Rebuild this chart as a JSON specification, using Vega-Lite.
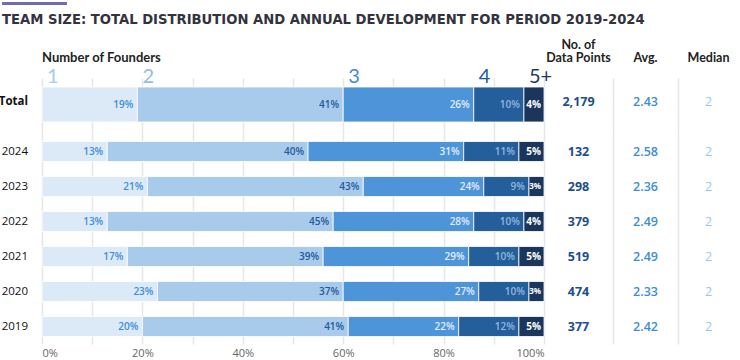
{
  "$schema": "https://vega.github.io/schema/vega-lite/v6.json",
  "padding": {"left": -2, "top": -3, "right": 0, "bottom": 0},
  "background": "white",
  "config": {
    "view": {"stroke": null},
    "text": {"font": "Open Sans"},
    "axis": {"labelFont": "Open Sans"},
    "title": {"font": "Lato"}
  },
  "datasets": {
    "bars": [
      {"group": "Total", "founders": "1", "p": 0.19},
      {"group": "Total", "founders": "2", "p": 0.41},
      {"group": "Total", "founders": "3", "p": 0.26},
      {"group": "Total", "founders": "4", "p": 0.10},
      {"group": "Total", "founders": "5+", "p": 0.04},
      {"group": "2024", "founders": "1", "p": 0.13},
      {"group": "2024", "founders": "2", "p": 0.40},
      {"group": "2024", "founders": "3", "p": 0.31},
      {"group": "2024", "founders": "4", "p": 0.11},
      {"group": "2024", "founders": "5+", "p": 0.05},
      {"group": "2023", "founders": "1", "p": 0.21},
      {"group": "2023", "founders": "2", "p": 0.43},
      {"group": "2023", "founders": "3", "p": 0.24},
      {"group": "2023", "founders": "4", "p": 0.09},
      {"group": "2023", "founders": "5+", "p": 0.03},
      {"group": "2022", "founders": "1", "p": 0.13},
      {"group": "2022", "founders": "2", "p": 0.45},
      {"group": "2022", "founders": "3", "p": 0.28},
      {"group": "2022", "founders": "4", "p": 0.10},
      {"group": "2022", "founders": "5+", "p": 0.04},
      {"group": "2021", "founders": "1", "p": 0.17},
      {"group": "2021", "founders": "2", "p": 0.39},
      {"group": "2021", "founders": "3", "p": 0.29},
      {"group": "2021", "founders": "4", "p": 0.10},
      {"group": "2021", "founders": "5+", "p": 0.05},
      {"group": "2020", "founders": "1", "p": 0.23},
      {"group": "2020", "founders": "2", "p": 0.37},
      {"group": "2020", "founders": "3", "p": 0.27},
      {"group": "2020", "founders": "4", "p": 0.10},
      {"group": "2020", "founders": "5+", "p": 0.03},
      {"group": "2019", "founders": "1", "p": 0.20},
      {"group": "2019", "founders": "2", "p": 0.41},
      {"group": "2019", "founders": "3", "p": 0.22},
      {"group": "2019", "founders": "4", "p": 0.12},
      {"group": "2019", "founders": "5+", "p": 0.05}
    ],
    "stats": [
      {"group": "Total", "n": 2179, "avg": 2.43, "median": 2},
      {"group": "2024", "n": 132, "avg": 2.58, "median": 2},
      {"group": "2023", "n": 298, "avg": 2.36, "median": 2},
      {"group": "2022", "n": 379, "avg": 2.49, "median": 2},
      {"group": "2021", "n": 519, "avg": 2.49, "median": 2},
      {"group": "2020", "n": 474, "avg": 2.33, "median": 2},
      {"group": "2019", "n": 377, "avg": 2.42, "median": 2}
    ]
  },
  "spacing": 12,
  "vconcat": [
    {
      "width": 65,
      "height": 3,
      "view": {"fill": "#6f6bb5", "stroke": null},
      "data": {"values": [{}]},
      "mark": {"type": "text", "text": ""},
      "title": {
        "text": "TEAM SIZE: TOTAL DISTRIBUTION AND ANNUAL DEVELOPMENT FOR PERIOD 2019-2024",
        "orient": "bottom", "anchor": "start", "frame": "group",
        "baseline": "top", "offset": 5.5, "font": "DejaVu Sans",
        "fontSize": 13.2, "fontWeight": "bold", "color": "#33333f"
      }
    },
    {
      "columns": 5,
      "spacing": {"row": 0, "column": 0},
      "align": "each",
      "bounds": "flush",
      "concat": [
        {
          "width": 40, "height": 56,
          "data": {"name": "stats"},
          "transform": [{"filter": "datum.group == 'Total'"}],
          "mark": {"type": "text", "align": "right", "dx": 6, "fontSize": 11.5, "fontWeight": "bold", "color": "#111111"},
          "encoding": {
            "y": {"field": "group", "type": "nominal", "axis": null,
                  "scale": {"domain": ["Total"], "paddingInner": 0, "paddingOuter": 0.3, "align": 0.4286}},
            "text": {"field": "group"}
          }
        },
        {
          "width": 502, "height": 56,
          "title": {"text": "Number of Founders", "anchor": "start", "frame": "group", "baseline": "bottom",
                    "offset": -11, "fontSize": 13, "fontWeight": "bold", "color": "#222222"},
          "data": {"name": "bars"},
          "transform": [
            {"filter": "datum.group == 'Total'"},
            {"stack": "p", "groupby": ["group"], "sort": [{"field": "founders"}], "as": ["x0", "x1"]}
          ],
          "encoding": {
            "y": {"field": "group", "type": "nominal", "axis": null,
                  "scale": {"domain": ["Total"], "paddingInner": 0, "paddingOuter": 0.3, "align": 0.4286}}
          },
          "layer": [
            {
              "mark": {"type": "bar", "stroke": "white", "strokeWidth": 0.8},
              "encoding": {
                "x": {"field": "x0", "type": "quantitative", "scale": {"domain": [0, 1]},
                      "axis": {"values": [0, 0.1, 0.2, 0.3, 0.4, 0.5, 0.6, 0.7, 0.8, 0.9, 1], "labels": false, "ticks": false, "domain": false,
                               "grid": true, "gridColor": "#e6e6e6", "gridWidth": 1.5, "title": null}},
                "x2": {"field": "x1"},
                "color": {"field": "founders", "type": "nominal", "legend": null,
                          "scale": {"domain": ["1", "2", "3", "4", "5+"], "range": ["#dce9f7", "#a8caeb", "#4e94d9", "#245f9c", "#1b365d"]}}
              }
            },
            {
              "transform": [{"filter": "datum.founders != '5+'"}],
              "mark": {"type": "text", "align": "right", "dx": -4, "fontSize": 10, "fontWeight": 600},
              "encoding": {
                "x": {"field": "x1", "type": "quantitative"},
                "text": {"field": "p", "type": "quantitative", "format": ".0%"},
                "color": {"condition": [
                  {"test": "datum.founders == '1'", "value": "#3b8fd9"},
                  {"test": "datum.founders == '2'", "value": "#1e5a9c"},
                  {"test": "datum.founders == '3'", "value": "#e2edf8"}
                ], "value": "#93b6dc"}
              }
            },
            {
              "transform": [{"filter": "datum.founders == '5+'"}],
              "mark": {"type": "text", "align": "right", "dx": -3, "fontWeight": "bold", "color": "white"},
              "encoding": {
                "x": {"field": "x1", "type": "quantitative"},
                "text": {"field": "p", "type": "quantitative", "format": ".0%"},
                "size": {"condition": {"test": "datum.p < 0.035", "value": 8}, "value": 10}
              }
            },
            {
              "mark": {"type": "text", "align": "left", "baseline": "alphabetic", "dx": 5, "dy": -4, "fontSize": 20, "font": "Lato"},
              "encoding": {
                "x": {"field": "x0", "type": "quantitative"},
                "y": {"field": "group", "type": "nominal", "bandPosition": 0},
                "text": {"field": "founders"},
                "color": {"condition": [
                  {"test": "datum.founders == '1'", "value": "#a9cbec"},
                  {"test": "datum.founders == '2'", "value": "#8fbce8"},
                  {"test": "datum.founders == '3'", "value": "#3d8dd8"},
                  {"test": "datum.founders == '4'", "value": "#1f5a9c"}
                ], "value": "#1d3a62"}
              }
            }
          ]
        },
        {
          "width": 69, "height": 56,
          "title": {"text": ["No. of", "Data Points"], "anchor": "middle", "frame": "group", "baseline": "bottom",
                    "offset": 1, "lineHeight": 12.5, "fontSize": 12.5, "fontWeight": "bold", "color": "#222222"},
          "data": {"name": "stats"},
          "transform": [{"filter": "datum.group == 'Total'"}],
          "mark": {"type": "text", "fontSize": 12.5, "fontWeight": "bold", "color": "#1c4e8e"},
          "encoding": {
            "y": {"field": "group", "type": "nominal", "axis": null,
                  "scale": {"domain": ["Total"], "paddingInner": 0, "paddingOuter": 0.3, "align": 0.4286}},
            "text": {"field": "n", "type": "quantitative", "format": ","}
          }
        },
        {
          "width": 65, "height": 56,
          "title": {"text": "Avg.", "anchor": "middle", "frame": "group", "baseline": "bottom",
                    "offset": 1, "fontSize": 12.5, "fontWeight": "bold", "color": "#222222"},
          "data": {"name": "stats"},
          "transform": [{"filter": "datum.group == 'Total'"}],
          "mark": {"type": "text", "fontSize": 12.5, "fontWeight": 600, "color": "#3b8ed8"},
          "encoding": {
            "y": {"field": "group", "type": "nominal",
                  "axis": {"labels": false, "ticks": false, "title": null, "domain": true, "domainColor": "#e6e6e6", "domainWidth": 1.5},
                  "scale": {"domain": ["Total"], "paddingInner": 0, "paddingOuter": 0.3, "align": 0.4286}},
            "text": {"field": "avg", "type": "quantitative", "format": ".2f"}
          }
        },
        {
          "width": 61, "height": 56,
          "title": {"text": "Median", "anchor": "middle", "frame": "group", "baseline": "bottom",
                    "offset": 1, "fontSize": 12.5, "fontWeight": "bold", "color": "#222222"},
          "data": {"name": "stats"},
          "transform": [{"filter": "datum.group == 'Total'"}],
          "mark": {"type": "text", "fontSize": 12.5, "color": "#9fc4ea"},
          "encoding": {
            "y": {"field": "group", "type": "nominal",
                  "axis": {"labels": false, "ticks": false, "title": null, "domain": true, "domainColor": "#e6e6e6", "domainWidth": 1.5},
                  "scale": {"domain": ["Total"], "paddingInner": 0, "paddingOuter": 0.3, "align": 0.4286}},
            "text": {"field": "median", "type": "quantitative"}
          }
        },
        {
          "width": 40, "height": 210,
          "data": {"name": "stats"},
          "transform": [{"filter": "datum.group != 'Total'"}],
          "mark": {"type": "text", "align": "right", "dx": 6, "fontSize": 11.5, "color": "#111111"},
          "encoding": {
            "y": {"field": "group", "type": "nominal", "axis": null,
                  "scale": {"domain": ["2024", "2023", "2022", "2021", "2020", "2019"], "paddingInner": 0.428571, "paddingOuter": 0.2142857}},
            "text": {"field": "group"}
          }
        },
        {
          "width": 502, "height": 210,
          "data": {"name": "bars"},
          "transform": [
            {"filter": "datum.group != 'Total'"},
            {"stack": "p", "groupby": ["group"], "sort": [{"field": "founders"}], "as": ["x0", "x1"]}
          ],
          "encoding": {
            "y": {"field": "group", "type": "nominal", "axis": null,
                  "scale": {"domain": ["2024", "2023", "2022", "2021", "2020", "2019"], "paddingInner": 0.428571, "paddingOuter": 0.2142857}}
          },
          "layer": [
            {
              "mark": {"type": "bar", "stroke": "white", "strokeWidth": 0.8},
              "encoding": {
                "x": {"field": "x0", "type": "quantitative", "scale": {"domain": [0, 1]},
                      "axis": {"values": [0, 0.1, 0.2, 0.3, 0.4, 0.5, 0.6, 0.7, 0.8, 0.9, 1], "format": ".0%",
                               "labelExpr": "round(datum.value * 10) % 2 == 0 ? datum.label : ''",
                               "ticks": false, "domain": false, "labelPadding": 3, "labelFontSize": 11, "labelColor": "#666666",
                               "grid": true, "gridColor": "#e6e6e6", "gridWidth": 1.5, "title": null}},
                "x2": {"field": "x1"},
                "color": {"field": "founders", "type": "nominal", "legend": null,
                          "scale": {"domain": ["1", "2", "3", "4", "5+"], "range": ["#dce9f7", "#a8caeb", "#4e94d9", "#245f9c", "#1b365d"]}}
              }
            },
            {
              "transform": [{"filter": "datum.founders != '5+'"}],
              "mark": {"type": "text", "align": "right", "dx": -4, "fontSize": 10, "fontWeight": 600},
              "encoding": {
                "x": {"field": "x1", "type": "quantitative"},
                "text": {"field": "p", "type": "quantitative", "format": ".0%"},
                "color": {"condition": [
                  {"test": "datum.founders == '1'", "value": "#3b8fd9"},
                  {"test": "datum.founders == '2'", "value": "#1e5a9c"},
                  {"test": "datum.founders == '3'", "value": "#e2edf8"}
                ], "value": "#93b6dc"}
              }
            },
            {
              "transform": [{"filter": "datum.founders == '5+'"}],
              "mark": {"type": "text", "align": "right", "dx": -3, "fontWeight": "bold", "color": "white"},
              "encoding": {
                "x": {"field": "x1", "type": "quantitative"},
                "text": {"field": "p", "type": "quantitative", "format": ".0%"},
                "size": {"condition": {"test": "datum.p < 0.035", "value": 8}, "value": 10}
              }
            }
          ]
        },
        {
          "width": 69, "height": 210,
          "data": {"name": "stats"},
          "transform": [{"filter": "datum.group != 'Total'"}],
          "mark": {"type": "text", "fontSize": 12.5, "fontWeight": "bold", "color": "#1c4e8e"},
          "encoding": {
            "y": {"field": "group", "type": "nominal", "axis": null,
                  "scale": {"domain": ["2024", "2023", "2022", "2021", "2020", "2019"], "paddingInner": 0.428571, "paddingOuter": 0.2142857}},
            "text": {"field": "n", "type": "quantitative", "format": ","}
          }
        },
        {
          "width": 65, "height": 210,
          "data": {"name": "stats"},
          "transform": [{"filter": "datum.group != 'Total'"}],
          "mark": {"type": "text", "fontSize": 12.5, "fontWeight": 600, "color": "#3b8ed8"},
          "encoding": {
            "y": {"field": "group", "type": "nominal",
                  "axis": {"labels": false, "ticks": false, "title": null, "domain": true, "domainColor": "#e6e6e6", "domainWidth": 1.5},
                  "scale": {"domain": ["2024", "2023", "2022", "2021", "2020", "2019"], "paddingInner": 0.428571, "paddingOuter": 0.2142857}},
            "text": {"field": "avg", "type": "quantitative", "format": ".2f"}
          }
        },
        {
          "width": 61, "height": 210,
          "data": {"name": "stats"},
          "transform": [{"filter": "datum.group != 'Total'"}],
          "mark": {"type": "text", "fontSize": 12.5, "color": "#9fc4ea"},
          "encoding": {
            "y": {"field": "group", "type": "nominal",
                  "axis": {"labels": false, "ticks": false, "title": null, "domain": true, "domainColor": "#e6e6e6", "domainWidth": 1.5},
                  "scale": {"domain": ["2024", "2023", "2022", "2021", "2020", "2019"], "paddingInner": 0.428571, "paddingOuter": 0.2142857}},
            "text": {"field": "median", "type": "quantitative"}
          }
        }
      ]
    }
  ]
}
